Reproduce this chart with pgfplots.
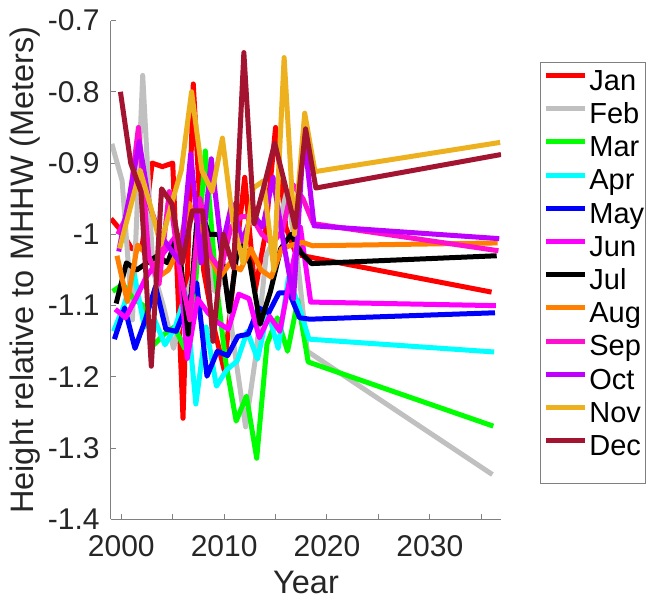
\documentclass[border=0pt]{standalone}
\usepackage{fontspec}
\setmainfont{Liberation Sans}
\usepackage{pgfplots}
\pgfplotsset{compat=1.18}
\usepackage{pgfplotstable}

\definecolor{cJan}{RGB}{255,0,0}
\definecolor{cFeb}{RGB}{192,192,192}
\definecolor{cMar}{RGB}{0,255,0}
\definecolor{cApr}{RGB}{0,255,255}
\definecolor{cMay}{RGB}{0,0,255}
\definecolor{cJun}{RGB}{255,0,255}
\definecolor{cJul}{RGB}{0,0,0}
\definecolor{cAug}{RGB}{255,128,0}
\definecolor{cSep}{RGB}{255,16,208}
\definecolor{cOct}{RGB}{191,0,255}
\definecolor{cNov}{RGB}{237,177,32}
\definecolor{cDec}{RGB}{162,20,47}
\definecolor{axgray}{RGB}{128,128,128}
\definecolor{txtgray}{RGB}{38,38,38}

\pgfplotstableread{
year Jan Feb Mar Apr May Jun Jul Aug Sep Oct Nov Dec
1999 -0.978 -0.873 -1.080 -1.136 -1.147 -1.105 -1.097 -1.030 -1.000 -1.024 -1.020 -0.800
2000 -0.995 -0.925 -1.070 -1.100 -1.103 -1.117 -1.040 -1.094 -0.970 -0.950 -0.965 -0.900
2001 -1.020 -1.120 -1.090 -1.055 -1.160 -1.090 -1.050 -1.015 -0.850 -0.870 -0.910 -0.940
2002 -1.020 -0.777 -1.100 -1.130 -1.120 -1.060 -1.040 -1.030 -1.030 -0.960 -0.960 -1.185
2003 -0.900 -1.050 -1.155 -1.120 -1.073 -1.040 -1.030 -1.060 -1.070 -1.000 -1.015 -0.936
2004 -0.905 -1.100 -1.140 -1.155 -1.133 -1.020 -1.040 -1.050 -0.940 -1.020 -0.960 -0.957
2005 -0.900 -1.160 -1.130 -1.130 -1.136 -1.000 -1.000 -1.020 -1.050 -1.040 -0.910 -1.040
2006 -1.258 -1.100 -1.160 -1.084 -1.100 -1.174 -1.140 -0.956 -1.120 -0.887 -0.800 -0.967
2007 -0.789 -1.050 -1.080 -1.238 -1.068 -1.090 -0.953 -0.990 -0.950 -1.040 -0.910 -0.967
2008 -1.050 -1.000 -0.883 -1.130 -1.199 -1.110 -1.000 -1.030 -1.030 -0.894 -0.940 -1.150
2009 -1.130 -1.080 -1.060 -1.213 -1.164 -1.124 -1.000 -1.060 -1.050 -1.020 -0.865 -1.000
2010 -1.190 -1.060 -1.180 -1.190 -1.170 -1.133 -1.108 -1.040 -0.990 -0.957 -0.980 -1.047
2011 -1.050 -1.170 -1.262 -1.178 -1.143 -1.084 -1.000 -1.050 -0.975 -1.010 -1.040 -0.745
2012 -0.920 -1.270 -1.227 -1.136 -1.140 -1.090 -1.040 -1.020 -0.975 -0.970 -0.935 -0.985
2013 -1.080 -1.170 -1.314 -1.175 -1.103 -1.145 -1.126 -1.050 -1.000 -0.990 -0.925 -0.930
2014 -1.000 -1.030 -1.154 -1.108 -1.110 -1.115 -1.080 -1.060 -1.013 -0.920 -1.050 -0.872
2015 -0.850 -1.000 -1.117 -1.160 -1.082 -1.136 -1.020 -1.020 -0.995 -1.010 -0.752 -0.930
2016 -0.990 -0.940 -1.164 -1.060 -1.082 -1.060 -1.000 -1.015 -0.930 -1.090 -1.000 -0.990
2017 -1.028 -1.030 -1.093 -1.100 -1.117 -0.990 -1.026 -1.011 -0.950 -0.860 -0.830 -0.852
2018 -1.031 -1.164 -1.179 -1.147 -1.119 -1.095 -1.041 -1.016 -0.985 -0.988 -0.912 -0.935
2036 -1.081 -1.337 -1.269 -1.165 -1.110 -1.100 -1.030 -1.012 -1.023 -1.006 -0.871 -0.888
}\data

\begin{document}
\begin{tikzpicture}
\begin{axis}[
  scale only axis, width=195pt, height=249.5pt,
  xmin=1999, xmax=2036.917, ymin=-1.4, ymax=-0.7,
  axis x line*=bottom, axis y line*=left,
  axis line style={draw=axgray, line width=0.5pt},
  xtick={2000,2005,2010,2015,2020,2025,2030,2035},
  xticklabels={2000,,2010,,2020,,2030,},
  ytick={-1.4,-1.3,-1.2,-1.1,-1,-0.9,-0.8,-0.7},
  yticklabels={-1.4,-1.3,-1.2,-1.1,-1,-0.9,-0.8,-0.7},
  tick align=inside, major tick length=2.5pt,
  tick style={draw=axgray, line width=0.5pt},
  tick label style={font=\fontsize{15}{18}\selectfont, text=txtgray},
  x tick label style={anchor=base, inner sep=0pt, yshift=-18.75pt},
  y tick label style={anchor=east, inner sep=0pt, xshift=-5.5pt},
  xlabel={Year}, ylabel={Height relative to MHHW (Meters)},
  label style={font=\fontsize{16.25}{19}\selectfont, text=txtgray},
  x label style={at={(axis description cs:0.5,-0.149)}, anchor=base, inner sep=0pt},
  y label style={at={(axis description cs:-0.2205,0.5)}, anchor=center, inner sep=0pt},
  legend style={name=leg, at={(1.1,0.9269)}, anchor=north west, draw=none, fill=none,
    font=\fontsize{14.5}{16}\selectfont, inner xsep=0pt, inner ysep=5.5pt,
    column sep=0pt, row sep=0pt, nodes={inner sep=0pt, text height=11pt, text depth=5.6pt}},
  legend cell align=left,
  legend image code/.code={\draw[#1, line width=2.5pt] (1.5pt,4.7pt) -- (21pt,4.7pt); \path (0pt,0pt) (22pt,0pt);},
  every axis plot/.append style={line width=2.5pt, line join=round},
]
\addplot[cJan] table[x expr=\thisrow{year}+0/12, y=Jan] {\data};
\addplot[cFeb] table[x expr=\thisrow{year}+1/12, y=Feb] {\data};
\addplot[cMar] table[x expr=\thisrow{year}+2/12, y=Mar] {\data};
\addplot[cApr] table[x expr=\thisrow{year}+3/12, y=Apr] {\data};
\addplot[cMay] table[x expr=\thisrow{year}+4/12, y=May] {\data};
\addplot[cJun] table[x expr=\thisrow{year}+5/12, y=Jun] {\data};
\addplot[cJul] table[x expr=\thisrow{year}+6/12, y=Jul] {\data};
\addplot[cAug] table[x expr=\thisrow{year}+7/12, y=Aug] {\data};
\addplot[cSep] table[x expr=\thisrow{year}+8/12, y=Sep] {\data};
\addplot[cOct] table[x expr=\thisrow{year}+9/12, y=Oct] {\data};
\addplot[cNov] table[x expr=\thisrow{year}+10/12, y=Nov] {\data};
\addplot[cDec] table[x expr=\thisrow{year}+11/12, y=Dec] {\data};
\legend{Jan,Feb,Mar,Apr,May,Jun,Jul,Aug,Sep,Oct,Nov,Dec}
\end{axis}
\draw[axgray, line width=0.5pt] ([yshift=-3pt]leg.north west) rectangle ([xshift=0.5pt, yshift=-2.5pt]leg.south east);
\pgfresetboundingbox
\useasboundingbox (-55.5pt,-39.75pt) rectangle (268.5pt,259.75pt);
\end{tikzpicture}
\end{document}
